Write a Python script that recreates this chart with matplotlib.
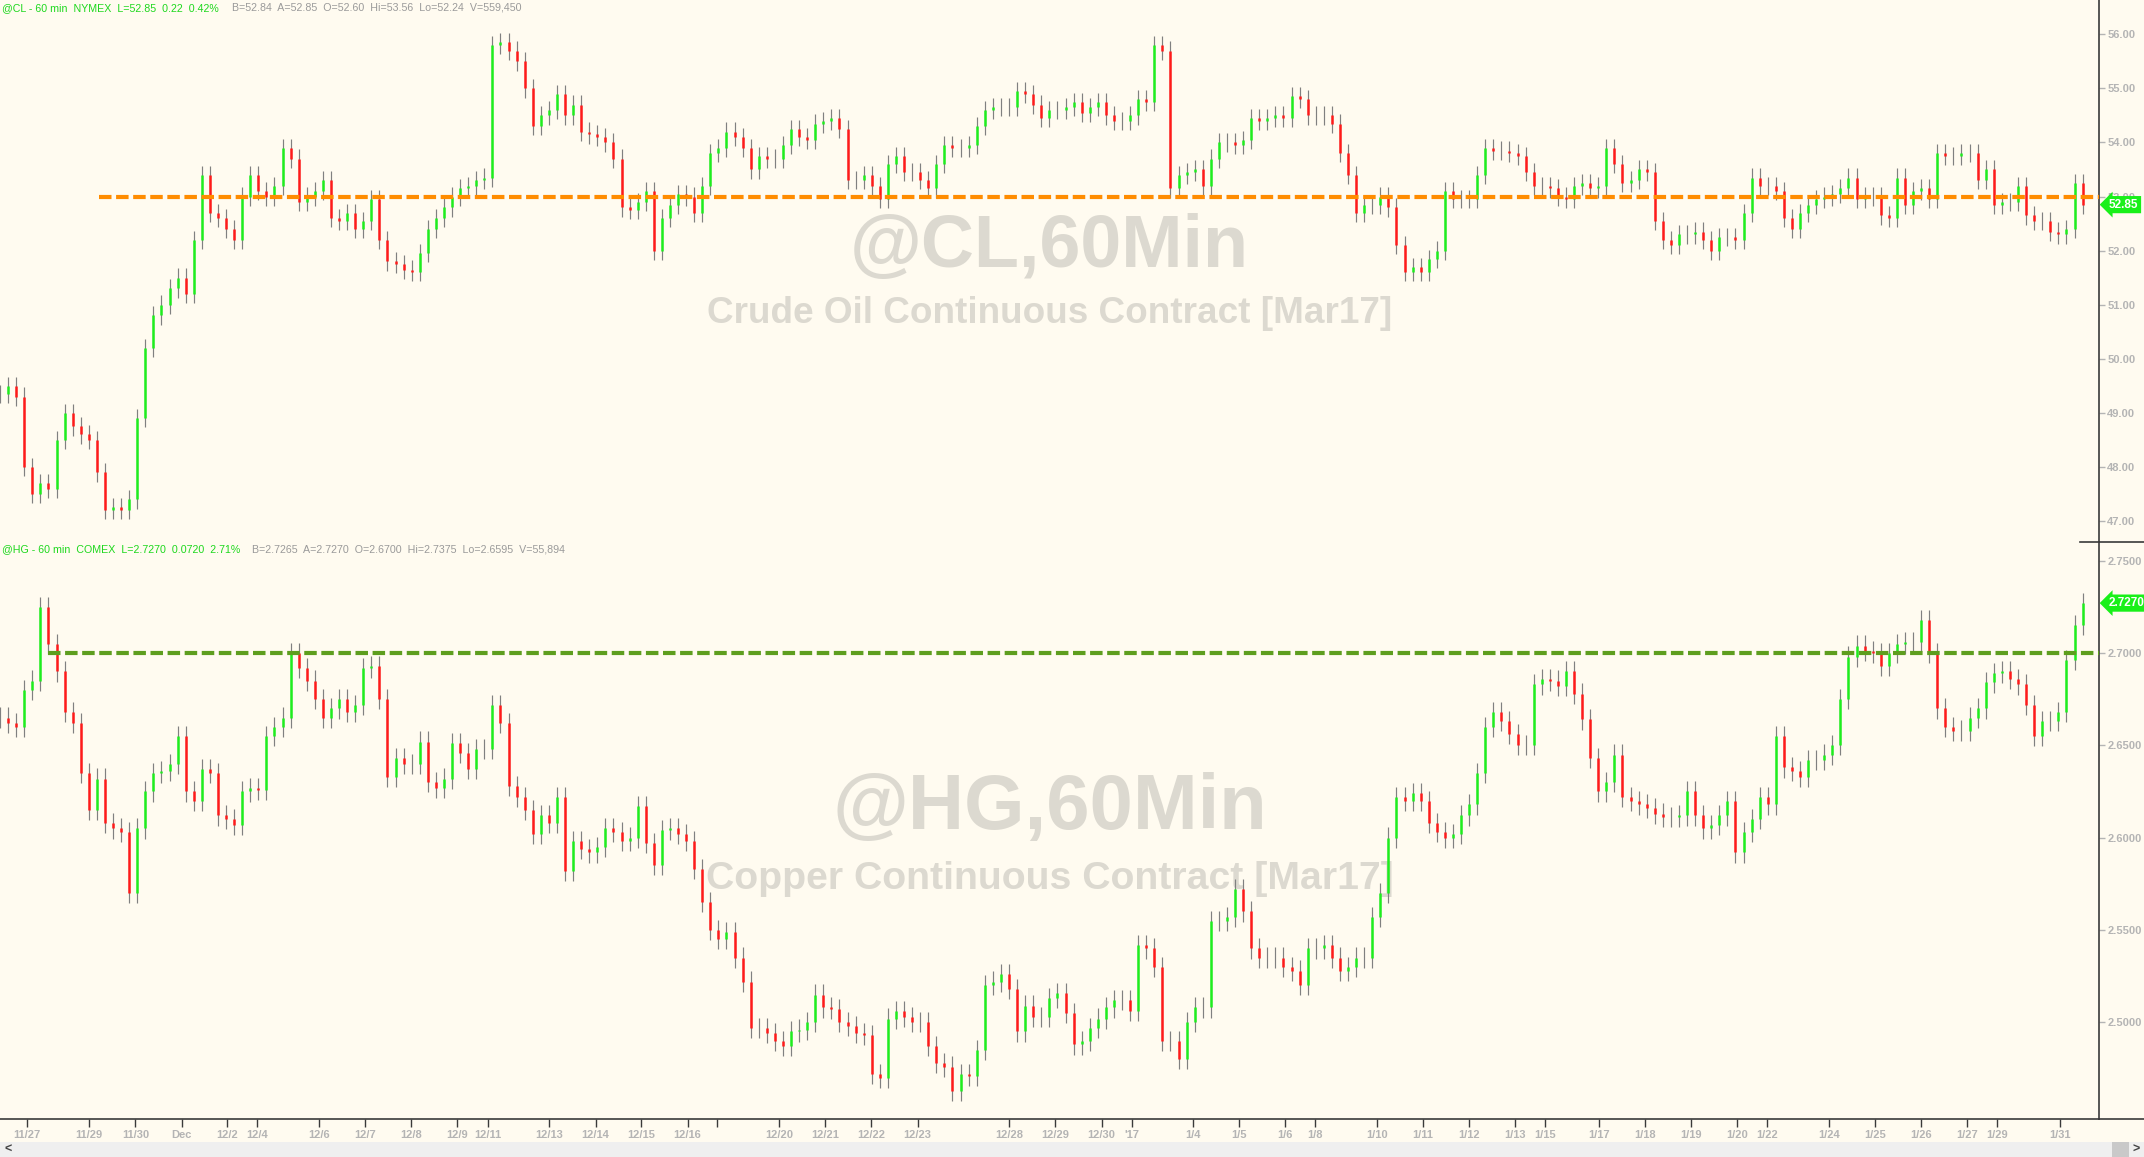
import matplotlib
matplotlib.use('Agg')
import matplotlib.pyplot as plt
import matplotlib.transforms as mtransforms
from matplotlib.patches import Rectangle
from matplotlib.lines import Line2D

plt.rcParams['font.family'] = ['Liberation Sans', 'DejaVu Sans']

########## data ##########
# bars sampled every 4 hours, x = hours since the 11/27 session open
BAR_STEP = 4

cl_close = [
    49.35, 49.5, 49.3, 48.0, 47.5, 47.7, 47.6, 48.5, 49.0, 48.75,
    48.6, 48.5, 47.9, 47.2, 47.25, 47.2, 47.4, 48.9, 50.2, 50.8,
    51.0, 51.3, 51.5, 51.2, 52.2, 53.4, 52.7, 52.6, 52.4, 52.2,
    53.0, 53.4, 53.1, 53.0, 53.2, 53.9, 53.7, 52.9, 53.0, 53.1,
    53.3, 52.6, 52.55, 52.7, 52.4, 52.55, 52.95, 52.2, 51.8, 51.75,
    51.65, 51.6, 51.95, 52.4, 52.6, 52.8, 53.0, 53.15, 53.2, 53.3,
    53.35, 55.8, 55.85, 55.7, 55.5, 55.0, 54.3, 54.5, 54.6, 54.9,
    54.5, 54.7, 54.2, 54.15, 54.1, 54.0, 53.7, 52.8, 52.75, 52.9,
    53.1, 52.0, 52.6, 52.85, 53.05, 53.0, 52.7, 53.2, 53.8, 53.9,
    54.2, 54.1, 53.9, 53.5, 53.75, 53.7, 53.7, 53.95, 54.25, 54.1,
    54.05, 54.35, 54.4, 54.45, 54.25, 53.3, 53.3, 53.4, 53.2, 52.95,
    53.6, 53.75, 53.45, 53.45, 53.3, 53.15, 53.6, 53.95, 53.9, 53.9,
    53.95, 54.3, 54.6, 54.65, 54.65, 54.65, 54.95, 54.9, 54.7, 54.45,
    54.6, 54.6, 54.65, 54.75, 54.55, 54.65, 54.75, 54.5, 54.4, 54.4,
    54.5, 54.8, 54.75, 55.8, 55.7, 53.15, 53.4, 53.45, 53.5, 53.2,
    53.7, 54.0, 54.0, 53.95, 54.05, 54.45, 54.4, 54.45, 54.5, 54.45,
    54.85, 54.8, 54.5, 54.5, 54.5, 54.35, 53.8, 53.4, 52.7, 52.85,
    52.85, 53.0, 52.8, 52.1, 51.6, 51.7, 51.6, 51.85, 52.0, 53.1,
    52.95, 52.95, 52.95, 53.4, 53.9, 53.85, 53.85, 53.8, 53.75, 53.45,
    53.2, 53.2, 53.15, 53.0, 52.95, 53.2, 53.25, 53.15, 53.2, 53.9,
    53.6, 53.25, 53.3, 53.5, 53.45, 52.55, 52.2, 52.1, 52.3, 52.3,
    52.35, 52.2, 52.0, 52.25, 52.25, 52.2, 52.7, 53.35, 53.2, 53.2,
    53.1, 52.6, 52.4, 52.7, 52.85, 52.95, 53.0, 53.05, 53.15, 53.35,
    52.95, 53.0, 53.0, 52.65, 52.6, 53.35, 52.85, 53.1, 53.15, 52.95,
    53.8, 53.75, 53.75, 53.8, 53.8, 53.3, 53.5, 52.85, 52.9, 52.9,
    53.2, 52.65, 52.55, 52.55, 52.35, 52.3, 52.4, 53.25, 52.85,
]

hg_close = [
    2.665, 2.662, 2.66, 2.68, 2.685, 2.725, 2.705, 2.69, 2.668, 2.662,
    2.635, 2.615, 2.632, 2.608, 2.605, 2.603, 2.57, 2.605, 2.625, 2.635,
    2.636, 2.64, 2.655, 2.625, 2.62, 2.637, 2.635, 2.612, 2.61, 2.607,
    2.625, 2.627, 2.626, 2.655, 2.66, 2.665, 2.70, 2.692, 2.685, 2.675,
    2.665, 2.67, 2.675, 2.668, 2.672, 2.692, 2.693, 2.675, 2.633, 2.643,
    2.64, 2.64, 2.652, 2.63, 2.627, 2.632, 2.651, 2.646, 2.637, 2.648,
    2.648, 2.672, 2.662, 2.628, 2.622, 2.615, 2.602, 2.612, 2.608, 2.622,
    2.582, 2.598, 2.594, 2.592, 2.595, 2.605, 2.603, 2.598, 2.6, 2.617,
    2.597, 2.585, 2.604, 2.605, 2.602, 2.598, 2.583, 2.565, 2.55, 2.545,
    2.549, 2.535, 2.522, 2.497, 2.497, 2.494, 2.49, 2.487, 2.495, 2.496,
    2.5, 2.515, 2.508, 2.507, 2.5, 2.498, 2.494, 2.493, 2.472, 2.47,
    2.502, 2.506, 2.503, 2.5, 2.5, 2.487, 2.478, 2.476, 2.463, 2.472,
    2.471, 2.485, 2.52, 2.522, 2.526, 2.518, 2.495, 2.509, 2.503, 2.503,
    2.513, 2.516, 2.505, 2.488, 2.49, 2.497, 2.502, 2.508, 2.512, 2.512,
    2.506, 2.542, 2.54, 2.53, 2.49, 2.49, 2.48, 2.5, 2.508, 2.508,
    2.555, 2.555, 2.557, 2.572, 2.56, 2.54, 2.535, 2.535, 2.535, 2.53,
    2.528, 2.52, 2.54, 2.54, 2.542, 2.535, 2.528, 2.53, 2.535, 2.535,
    2.557, 2.57, 2.6, 2.622, 2.62, 2.624, 2.62, 2.608, 2.603, 2.6,
    2.602, 2.612, 2.618, 2.635, 2.66, 2.668, 2.663, 2.656, 2.65, 2.65,
    2.683, 2.686, 2.685, 2.682, 2.69, 2.678, 2.664, 2.643, 2.625, 2.63,
    2.645, 2.622, 2.62, 2.618, 2.616, 2.613, 2.611, 2.611, 2.612, 2.625,
    2.612, 2.605, 2.607, 2.612, 2.62, 2.592, 2.603, 2.61, 2.622, 2.618,
    2.655, 2.638, 2.636, 2.633, 2.642, 2.642, 2.645, 2.65, 2.675, 2.698,
    2.704, 2.701, 2.7, 2.693, 2.7, 2.705, 2.706, 2.706, 2.718, 2.7,
    2.67, 2.66, 2.658, 2.658, 2.665, 2.67, 2.684, 2.689, 2.69, 2.686,
    2.683, 2.672, 2.655, 2.663, 2.663, 2.668, 2.696, 2.715, 2.727,
]

# horizontal levels (price, hour where the line starts)
cl_level = 53.00
cl_level_from = 49
hg_level = 2.70
hg_level_from = 24

cl_last = 52.85
hg_last = 2.7270

cl_yticks = [47, 48, 49, 50, 51, 52, 53, 54, 55, 56]
hg_yticks = [2.50, 2.55, 2.60, 2.65, 2.70, 2.75]

# session-start hours for the date labels
tick_hours = [13.2, 44.2, 67.1, 90, 112.6, 127.6, 158.2, 181.1, 203.7, 226.7,
              241.6, 272.2, 295.1, 317.7, 340.7, 355.3, 386.2, 408.8, 431.8, 454.7,
              500.2, 523, 545.9, 560.8, 591.2, 614, 636.8, 651.7, 682.4, 705.2,
              728, 750.8, 765.8, 792.4, 815.2, 838, 860.8, 875.6, 906.3, 929.1,
              952, 974.7, 989.6, 1020.6]
tick_labels = ['11/27', '11/29', '11/30', 'Dec', '12/2', '12/4', '12/6', '12/7', '12/8', '12/9',
               '12/11', '12/13', '12/14', '12/15', '12/16', '', '12/20', '12/21', '12/22', '12/23',
               '12/28', '12/29', '12/30', "'17", '1/4', '1/5', '1/6', '1/8', '1/10', '1/11',
               '1/12', '1/13', '1/15', '1/17', '1/18', '1/19', '1/20', '1/22', '1/24', '1/25',
               '1/26', '1/27', '1/29', '1/31']

cl_head_green = '@CL - 60 min  NYMEX  L=52.85  0.22  0.42%'
cl_head_gray = 'B=52.84  A=52.85  O=52.60  Hi=53.56  Lo=52.24  V=559,450'
hg_head_green = '@HG - 60 min  COMEX  L=2.7270  0.0720  2.71%'
hg_head_gray = 'B=2.7265  A=2.7270  O=2.6700  Hi=2.7375  Lo=2.6595  V=55,894'
########## end data ##########

BG = '#FFFBF0'
UP = '#1EEE1E'
DOWN = '#FF1A1A'
WICK = '#808080'
AXIS = '#3A3A3A'
LABEL = '#B4B4B4'
WATER = '#DCD9D0'
HEAD_GREEN = '#1ED81E'
HEAD_GRAY = '#9A9A9A'

W, H = 2144, 1157
fig = plt.figure(figsize=(W / 100, H / 100), dpi=100, facecolor=BG)

plot_right = 2099 / W
sep_y = 541.8
bot_y = 1119
ax1 = fig.add_axes([0, 1 - sep_y / H, plot_right, sep_y / H])
ax2 = fig.add_axes([0, 1 - bot_y / H, plot_right, (bot_y - sep_y) / H])

x_max = 2099 / 2.018


def draw_bars(ax, closes, pad):
    xs = [i * BAR_STEP for i in range(len(closes))]
    opens = [closes[0]] + closes[:-1]
    highs = [max(o, c) + pad for o, c in zip(opens, closes)]
    lows = [min(o, c) - pad for o, c in zip(opens, closes)]
    ax.vlines(xs, lows, highs, color=WICK, lw=0.85, zorder=2)
    cols = [UP if c >= o else DOWN for o, c in zip(opens, closes)]
    ax.vlines(xs, opens, closes, color=cols, lw=1.8, zorder=3)


def style_axis(ax, yticks, fmt, ylim):
    ax.set_facecolor(BG)
    ax.set_xlim(0, x_max)
    ax.set_ylim(*ylim)
    for s in ['top', 'left', 'bottom']:
        ax.spines[s].set_visible(False)
    ax.spines['right'].set_color(AXIS)
    ax.spines['right'].set_linewidth(1.2)
    ax.yaxis.tick_right()
    ax.set_yticks(yticks)
    ax.set_yticklabels([fmt.format(v) for v in yticks])
    ax.tick_params(axis='y', direction='out', length=4, width=1, color=LABEL,
                   labelcolor=LABEL, labelsize=8, pad=2)
    for t in ax.get_yticklabels():
        t.set_fontweight('bold')


def price_tag(ax, value, text):
    trans = mtransforms.blended_transform_factory(ax.transAxes, ax.transData)
    trans = trans + mtransforms.ScaledTranslation(10 / 100, 0, fig.dpi_scale_trans)
    ax.text(1.0, value, text, transform=trans, ha='left', va='center',
            fontsize=8.5, fontweight='bold', color='white', clip_on=False, zorder=10,
            bbox=dict(boxstyle='larrow,pad=0.22', fc='#19F019', ec='none'))


# top panel: crude
style_axis(ax1, cl_yticks, '{:.2f}', (46.615, 56.634))
ax1.set_xticks([])
ax1.text(0.5, 0.507, '@CL,60Min', transform=ax1.transAxes, ha='center', va='baseline',
         fontsize=53, fontweight='bold', color=WATER, zorder=0)
ax1.text(0.5, 0.403, 'Crude Oil Continuous Contract [Mar17]', transform=ax1.transAxes,
         ha='center', va='baseline', fontsize=26.6, fontweight='bold', color=WATER, zorder=0)
draw_bars(ax1, cl_close, 0.17)
ax1.plot([cl_level_from, x_max], [cl_level, cl_level], color='#FF8C00', lw=3,
         dashes=(3, 1.1), zorder=5, dash_capstyle='butt')
price_tag(ax1, cl_last, f'{cl_last:.2f}')

# bottom panel: copper
style_axis(ax2, hg_yticks, '{:.4f}', (2.4476, 2.7602))
ax2.spines['bottom'].set_visible(True)
ax2.spines['bottom'].set_color(AXIS)
ax2.spines['bottom'].set_linewidth(1.2)
ax2.set_xticks(tick_hours)
ax2.set_xticklabels(tick_labels)
ax2.tick_params(axis='x', direction='out', length=6, width=1, color=AXIS,
                labelcolor=LABEL, labelsize=8, pad=2)
for t in ax2.get_xticklabels():
    t.set_fontweight('bold')
ax2.text(0.5, 0.503, '@HG,60Min', transform=ax2.transAxes, ha='center', va='baseline',
         fontsize=56, fontweight='bold', color=WATER, zorder=0)
ax2.text(0.5, 0.399, 'Copper Continuous Contract [Mar17]', transform=ax2.transAxes,
         ha='center', va='baseline', fontsize=28.3, fontweight='bold', color=WATER, zorder=0)
draw_bars(ax2, hg_close, 0.0055)
ax2.plot([hg_level_from, x_max], [hg_level, hg_level], color='#5E9E1E', lw=3,
         dashes=(3, 1.1), zorder=5, dash_capstyle='butt')
price_tag(ax2, hg_last, f'{hg_last:.4f}')

# headers
head = dict(fontsize=7.7, ha='left', va='center')
fig.text(2 / W, 1 - 8 / H, cl_head_green, color=HEAD_GREEN, **head)
fig.text(232 / W, 1 - 8 / H, cl_head_gray, color=HEAD_GRAY, **head)
fig.text(2 / W, 1 - 549 / H, hg_head_green, color=HEAD_GREEN, **head)
fig.text(252 / W, 1 - 549 / H, hg_head_gray, color=HEAD_GRAY, **head)

# panel separator in the price-scale area
fig.add_artist(Line2D([2080 / W, 1], [1 - sep_y / H, 1 - sep_y / H], color=AXIS, lw=1.2))
# bottom axis line runs under the price scale too
fig.add_artist(Line2D([plot_right, 1], [1 - bot_y / H, 1 - bot_y / H], color=AXIS, lw=1.2))

# scroll bar
fig.add_artist(Rectangle((0, 0), 1, 15 / H, transform=fig.transFigure, fc='#EFEFEF', ec='none'))
fig.add_artist(Rectangle((2112 / W, 0), 17 / W, 15 / H, transform=fig.transFigure,
                         fc='#C9C9C9', ec='none'))
fig.text(8 / W, 7.5 / H, '<', fontsize=9, color='#444444', ha='center', va='center', fontweight='bold')
fig.text(2136 / W, 7.5 / H, '>', fontsize=9, color='#444444', ha='center', va='center', fontweight='bold')

fig.savefig('out.png', dpi=100, facecolor=BG)
